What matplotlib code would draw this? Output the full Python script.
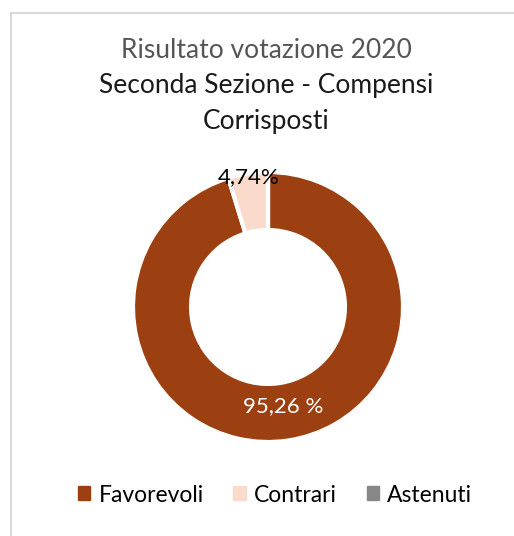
import numpy as np
import matplotlib.pyplot as plt
from matplotlib.lines import Line2D
from matplotlib.patches import Patch

plt.rcParams['font.family'] = ['Lato', 'DejaVu Sans']

categories = ['Favorevoli', 'Contrari', 'Astenuti']
values = [95.26, 4.74, 0.0]
value_labels = ['95,26 %', '4,74%', '']
colors = ['#9C4011', '#FADBCB', '#878787']

fig = plt.figure(figsize=(5.14, 5.36), dpi=100)

# light frame (left + top edges visible only)
fig.add_artist(Line2D([11/514, 11/514], [0, 1 - 13/536], color='#D9D9D9', lw=1.5))
fig.add_artist(Line2D([11/514, 1], [1 - 13/536, 1 - 13/536], color='#D9D9D9', lw=1.5))

fig.text(0.518, 1 - 50/536, 'Risultato votazione 2020', ha='center', va='center',
         fontsize=19, color='#555555')
fig.text(0.518, 1 - 86/536, 'Seconda Sezione - Compensi', ha='center', va='center',
         fontsize=19, color='#1a1a1a')
fig.text(0.518, 1 - 121/536, 'Corrisposti', ha='center', va='center',
         fontsize=19, color='#1a1a1a')

cx, cy, r = 268, 307, 135
ax = fig.add_axes([(cx - r)/514, (536 - cy - r)/536, 2*r/514, 2*r/536])
wedges, _ = ax.pie(values, colors=colors, startangle=90, counterclock=False,
                   radius=1, wedgeprops=dict(width=0.43, edgecolor='white', linewidth=3))
ax.set_xlim(-1, 1)
ax.set_ylim(-1, 1)
ax.set_aspect('auto')
ax.axis('off')

# value labels at wedge mid-angles
dists = [0.74, 0.97]
tcolors = ['white', 'black']
for w, lab, d, tc in zip(wedges, value_labels, dists, tcolors):
    ang = np.deg2rad((w.theta1 + w.theta2) / 2)
    ax.text(d*np.cos(ang), d*np.sin(ang), lab, ha='center', va='center',
            fontsize=16, color=tc)

handles = [Patch(color=c) for c in colors]
fig.legend(handles, categories, loc='center', bbox_to_anchor=(0.535, 1 - 495/536),
           ncol=3, frameon=False, fontsize=16.5, handlelength=0.55, handleheight=0.55,
           handletextpad=0.35, columnspacing=1.3)

fig.savefig('out.png', dpi=100)
